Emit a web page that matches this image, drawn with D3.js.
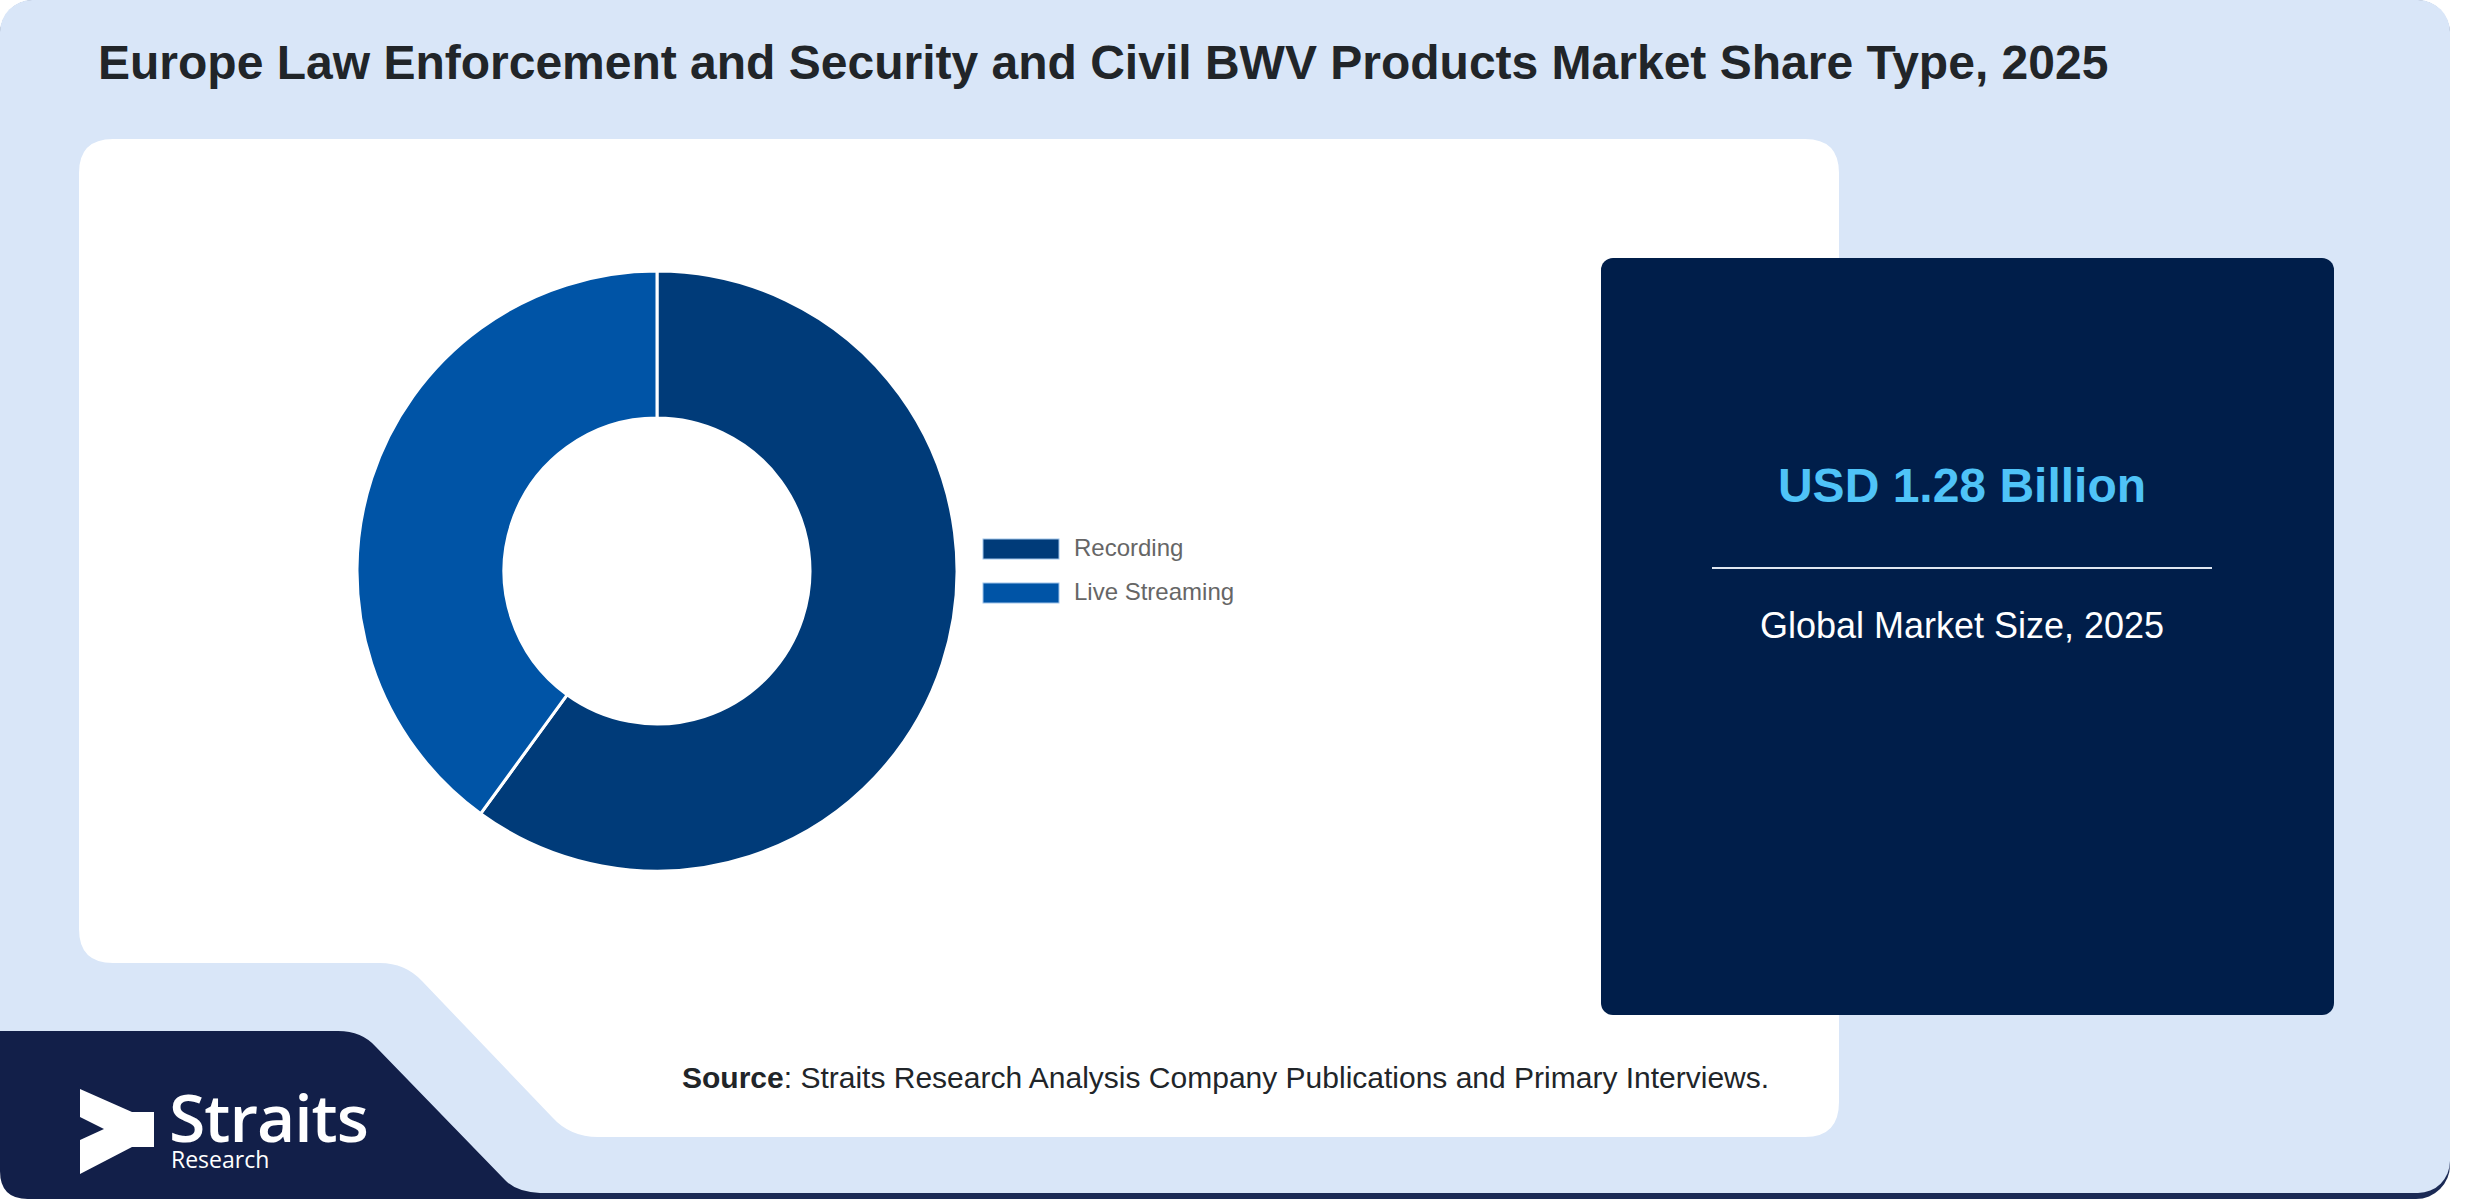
<!DOCTYPE html>
<html>
<head>
<meta charset="utf-8">
<script src="https://cdn.jsdelivr.net/npm/d3@7"></script>
<style>
  body { margin: 0; background: #fff; }
  svg { display: block; }
</style>
</head>
<body>
<div id="chart"></div>
<script>
var categories = ['Recording', 'Live Streaming'];
var shares = [60, 40];
var colors = ['#003B79', '#0054A6'];
var title = 'Europe Law Enforcement and Security and Civil BWV Products Market Share Type, 2025';
var marketValue = 'USD 1.28 Billion';
var marketLabel = 'Global Market Size, 2025';

var width = 2480;
var height = 1200;

var svg = d3.select('#chart').append('svg')
  .attr('width', width)
  .attr('height', height);

// background layers
svg.append('rect')
  .attr('x', 0).attr('y', 0)
  .attr('width', 2450).attr('height', 1199)
  .attr('rx', 34)
  .attr('fill', '#1b2a55');

svg.append('rect')
  .attr('x', 0).attr('y', 0)
  .attr('width', 2450).attr('height', 1193)
  .attr('rx', 32)
  .attr('fill', '#d9e6f8');

// white card with the cut corner at the bottom left
var card = d3.path();
card.moveTo(113, 139);
card.lineTo(1805, 139);
card.quadraticCurveTo(1839, 139, 1839, 173);
card.lineTo(1839, 1102);
card.quadraticCurveTo(1839, 1137, 1805, 1137);
card.lineTo(598, 1137);
card.quadraticCurveTo(570, 1137, 552, 1117);
card.lineTo(422, 981);
card.quadraticCurveTo(405, 963, 380, 963);
card.lineTo(113, 963);
card.quadraticCurveTo(79, 963, 79, 929);
card.lineTo(79, 173);
card.quadraticCurveTo(79, 139, 113, 139);
card.closePath();
svg.append('path').attr('d', card.toString()).attr('fill', '#ffffff');

// dark logo block
var logoBlock = d3.path();
logoBlock.moveTo(0, 1031);
logoBlock.lineTo(338, 1031);
logoBlock.quadraticCurveTo(362, 1031, 376, 1047);
logoBlock.lineTo(505, 1180);
logoBlock.quadraticCurveTo(516, 1192, 540, 1193);
logoBlock.lineTo(540, 1199);
logoBlock.lineTo(28, 1199);
logoBlock.quadraticCurveTo(0, 1199, 0, 1171);
logoBlock.closePath();
svg.append('path').attr('d', logoBlock.toString()).attr('fill', '#121f49');

// title
svg.append('text')
  .attr('x', 98).attr('y', 79)
  .attr('font-family', 'Liberation Sans, Arial, sans-serif')
  .attr('font-weight', 'bold')
  .attr('font-size', 48)
  .attr('fill', '#212529')
  .text(title);

// donut
var cx = 657, cy = 571;
var pie = d3.pie().sort(null).value(function (d) { return d; });
var arc = d3.arc().innerRadius(153).outerRadius(300);

var g = svg.append('g').attr('transform', 'translate(' + cx + ',' + cy + ')');
g.selectAll('path')
  .data(pie(shares))
  .enter().append('path')
  .attr('d', arc)
  .attr('fill', function (d, i) { return colors[i]; })
  .attr('stroke', '#ffffff')
  .attr('stroke-width', 3);

// legend
var legend = svg.append('g').attr('transform', 'translate(983,539)');
var item = legend.selectAll('g')
  .data(categories)
  .enter().append('g')
  .attr('transform', function (d, i) { return 'translate(0,' + (i * 44) + ')'; });
item.append('rect')
  .attr('width', 76).attr('height', 20)
  .attr('fill', function (d, i) { return colors[i]; })
  .attr('stroke', '#9ec3ea')
  .attr('stroke-width', 1);
item.append('text')
  .attr('x', 91).attr('y', 17)
  .attr('font-family', 'Liberation Sans, Arial, sans-serif')
  .attr('font-size', 24)
  .attr('fill', '#666666')
  .text(function (d) { return d; });

// market size panel
svg.append('rect')
  .attr('x', 1601).attr('y', 258)
  .attr('width', 733).attr('height', 757)
  .attr('rx', 12)
  .attr('fill', '#001e4a');

svg.append('text')
  .attr('x', 1962).attr('y', 502)
  .attr('text-anchor', 'middle')
  .attr('font-family', 'Liberation Sans, Arial, sans-serif')
  .attr('font-weight', 'bold')
  .attr('font-size', 48)
  .attr('fill', '#4fc3f7')
  .text(marketValue);

svg.append('line')
  .attr('x1', 1712).attr('x2', 2212)
  .attr('y1', 568).attr('y2', 568)
  .attr('stroke', '#dfe6f0')
  .attr('stroke-width', 2);

svg.append('text')
  .attr('x', 1962).attr('y', 638)
  .attr('text-anchor', 'middle')
  .attr('font-family', 'Liberation Sans, Arial, sans-serif')
  .attr('font-size', 36)
  .attr('fill', '#ffffff')
  .text(marketLabel);

// source
var src = svg.append('text')
  .attr('x', 682).attr('y', 1088)
  .attr('font-family', 'Liberation Sans, Arial, sans-serif')
  .attr('font-size', 30)
  .attr('fill', '#212529');
src.append('tspan').attr('font-weight', 'bold').text('Source');
src.append('tspan').text(': Straits Research Analysis Company Publications and Primary Interviews.');

// logo
var mark = [[80, 1089], [132, 1112], [154, 1112], [154, 1147], [132, 1147], [80, 1174],
            [80, 1140], [104, 1129], [80, 1117]];
svg.append('polygon')
  .attr('points', mark.map(function (p) { return p.join(','); }).join(' '))
  .attr('fill', '#ffffff');

svg.append('text')
  .attr('x', 169).attr('y', 1142)
  .attr('font-family', 'Open Sans, sans-serif')
  .attr('font-weight', 600)
  .attr('font-size', 66)
  .attr('letter-spacing', -1)
  .attr('fill', '#ffffff')
  .text('Straits');

svg.append('text')
  .attr('x', 171).attr('y', 1168)
  .attr('font-family', 'Open Sans, sans-serif')
  .attr('font-size', 23)
  .attr('fill', '#ffffff')
  .text('Research');
</script>
</body>
</html>
